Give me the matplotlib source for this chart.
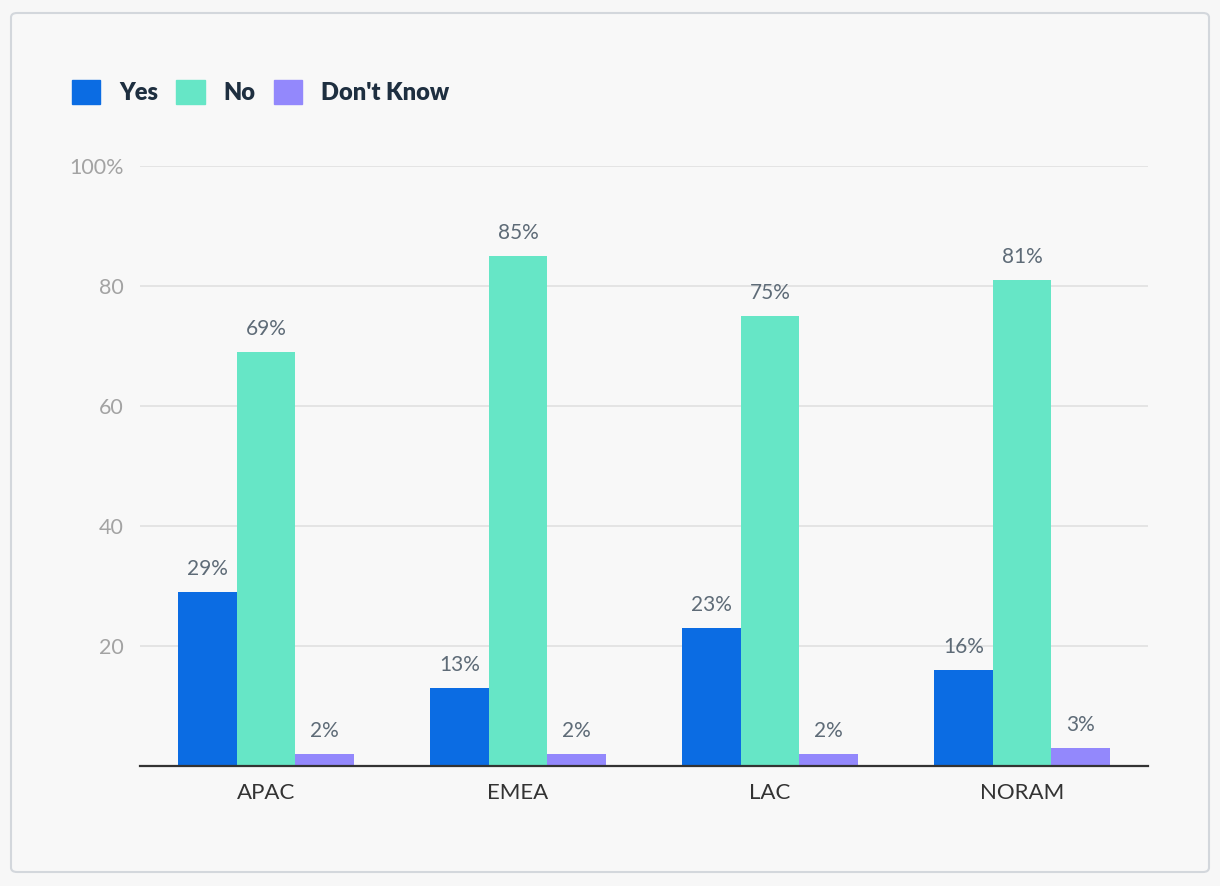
import matplotlib.pyplot as plt
import numpy as np
from matplotlib.patches import FancyBboxPatch, Rectangle

plt.rcParams['font.family'] = ['Lato', 'DejaVu Sans']

# Data
regions = ['APAC', 'EMEA', 'LAC', 'NORAM']
yes = [29, 13, 23, 16]
no = [69, 85, 75, 81]
dont_know = [2, 2, 2, 3]
series_names = ['Yes', 'No', "Don't Know"]
colors = ['#0b6ce3', '#66e6c6', '#9388fc']
yticks = [20, 40, 60, 80, 100]
ytick_labels = ['20', '40', '60', '80', '100%']

W, H = 1220, 886
fig = plt.figure(figsize=(W / 100, H / 100), dpi=100)
fig.patch.set_facecolor('#f7f7f7')

# rounded card border
card = FancyBboxPatch((11 / W, 14 / H), 1198 / W, 859 / H,
                      boxstyle='round,pad=0,rounding_size=0.005',
                      transform=fig.transFigure, facecolor='#f8f8f8',
                      edgecolor='#d3d7dc', linewidth=1.5, zorder=-10)
fig.patches.append(card)

ax = fig.add_axes([140 / W, 120 / H, 1008 / W, 600 / H])
ax.set_facecolor('none')

x = np.arange(len(regions))
w = 0.233
for i, (vals, name, c) in enumerate(zip([yes, no, dont_know], series_names, colors)):
    pos = x + (i - 1) * w
    ax.bar(pos, vals, width=w, color=c, label=name, zorder=3)
    for px, v in zip(pos, vals):
        ax.text(px, v + 2.2, f'{v}%', ha='center', va='bottom', fontsize=15,
                color='#5e6b77', zorder=4)

ax.set_xlim(-0.5, 3.5)
ax.set_ylim(0, 100)
ax.set_yticks(yticks)
ax.set_yticklabels(ytick_labels)
ax.set_xticks(x)
ax.set_xticklabels(regions)
ax.grid(axis='y', color='#e0e0e0', linewidth=1.2, zorder=0)
for s in ['top', 'right', 'left']:
    ax.spines[s].set_visible(False)
ax.spines['bottom'].set_color('#333333')
ax.spines['bottom'].set_linewidth(1.6)
ax.spines['bottom'].set_zorder(5)
ax.tick_params(axis='y', length=0, pad=12, labelsize=15.5, labelcolor='#a3a3a3')
ax.tick_params(axis='x', length=0, pad=12, labelsize=16, labelcolor='#333333')

# legend
handles = [Rectangle((0, 0), 1, 1, color=c) for c in colors]
leg = fig.legend(handles, series_names, loc='center left',
                 bbox_to_anchor=(72 / W, 1 - 92 / H), ncol=3, frameon=False,
                 borderpad=0, borderaxespad=0,
                 handlelength=1.19, handleheight=1.19, handletextpad=0.8,
                 columnspacing=0.78, prop={'weight': 'heavy', 'size': 17})
for t in leg.get_texts():
    t.set_color('#1e2f40')

fig.savefig('out.png', dpi=100, facecolor=fig.get_facecolor())
